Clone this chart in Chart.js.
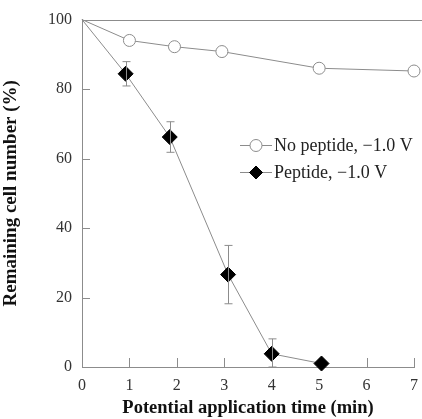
<!DOCTYPE html>
<html>
<head>
<meta charset="utf-8">
<script src="https://cdn.jsdelivr.net/npm/chart.js@4.4.4/dist/chart.umd.min.js"></script>
<style>
  html, body { margin: 0; padding: 0; background: #fff; overflow: hidden; }
  canvas { display: block; }
</style>
</head>
<body>
<canvas id="c" width="427" height="419"></canvas>
<script>
// data
const noPepX = [0, 1, 1.95, 2.95, 5, 7]
const noPepY = [100, 94, 92.2, 90.8, 86, 85.2]
const pepX = [0, 0.92, 1.85, 3.08, 4, 5.05]
const pepY = [100, 84.4, 66.2, 26.6, 3.8, 1]
const pepErr = [0, 3.5, 4.4, 8.4, 4.3, 0]
const xTicks = [0, 1, 2, 3, 4, 5, 6, 7]
const yTicks = [0, 20, 40, 60, 80, 100]

const lineGray = "#8c8c8c"
const serif = "'Liberation Serif', 'DejaVu Serif', serif"

const toPts = (xs, ys) => xs.map((x, i) => ({x: x, y: ys[i]}))

// error bars for the peptide series
const errorBars = {
  id: "errorBars",
  afterDatasetsDraw(chart) {
    const {ctx, scales: {x, y}} = chart
    ctx.save()
    ctx.strokeStyle = lineGray
    ctx.lineWidth = 1
    pepX.forEach((v, i) => {
      if (!pepErr[i]) return
      const px = Math.round(x.getPixelForValue(v)) + 0.5
      const top = y.getPixelForValue(pepY[i] + pepErr[i])
      const bot = y.getPixelForValue(Math.max(0, pepY[i] - pepErr[i]))
      ctx.beginPath()
      ctx.moveTo(px, top); ctx.lineTo(px, bot)
      ctx.moveTo(px - 4, top); ctx.lineTo(px + 4, top)
      ctx.moveTo(px - 4, bot); ctx.lineTo(px + 4, bot)
      ctx.stroke()
    })
    ctx.restore()
  }
}

// inward tick marks + top frame line
const innerTicks = {
  id: "innerTicks",
  beforeDatasetsDraw(chart) {
    const {ctx, chartArea: a, scales: {x, y}} = chart
    ctx.save()
    ctx.strokeStyle = lineGray
    ctx.lineWidth = 1
    ctx.beginPath()
    const top = Math.round(y.getPixelForValue(100)) + 0.5
    ctx.moveTo(a.left, top); ctx.lineTo(chart.width, top)
    xTicks.slice(1).forEach(v => {
      const px = Math.round(x.getPixelForValue(v)) + 0.5
      ctx.moveTo(px, a.bottom); ctx.lineTo(px, a.bottom - 9)
    })
    yTicks.slice(1, -1).forEach(v => {
      const py = Math.round(y.getPixelForValue(v)) + 0.5
      ctx.moveTo(a.left, py); ctx.lineTo(a.left + 8, py)
    })
    ctx.stroke()
    ctx.restore()
  }
}

// legend drawn inside the plot
const innerLegend = {
  id: "innerLegend",
  afterDatasetsDraw(chart) {
    const {ctx} = chart
    const rows = [
      {y: 145, ds: 0},
      {y: 172, ds: 1}
    ]
    ctx.save()
    rows.forEach(r => {
      const ds = chart.data.datasets[r.ds]
      ctx.strokeStyle = lineGray
      ctx.lineWidth = 1
      ctx.beginPath()
      ctx.moveTo(240, r.y + 0.5); ctx.lineTo(272, r.y + 0.5)
      ctx.stroke()
      ctx.fillStyle = ds.pointBackgroundColor
      ctx.strokeStyle = ds.pointBorderColor
      Chart.helpers.drawPoint(ctx, {
        pointStyle: ds.pointStyle, radius: ds.legendRadius, borderWidth: 1
      }, 256, r.y + 0.5)
      ctx.fillStyle = "#222"
      ctx.font = "18px " + serif
      ctx.textBaseline = "middle"
      ctx.fillText(ds.label, 274, r.y + 1)
    })
    ctx.restore()
  }
}

const chart = new Chart(document.getElementById("c"), {
  type: "scatter",
  data: {
    datasets: [
      {
        label: "No peptide, \u22121.0 V",
        data: toPts(noPepX, noPepY),
        showLine: true,
        borderColor: lineGray,
        borderWidth: 1,
        pointStyle: "circle",
        pointRadius: [0, 6, 6, 6, 6, 6],
        legendRadius: 6,
        pointBackgroundColor: "#fff",
        pointBorderColor: lineGray,
        pointBorderWidth: 1
      },
      {
        label: "Peptide, \u22121.0 V",
        data: toPts(pepX, pepY),
        showLine: true,
        borderColor: lineGray,
        borderWidth: 1,
        pointStyle: "rectRot",
        pointRadius: [0, 7.5, 7.5, 7.5, 7.5, 7.5],
        legendRadius: 6.5,
        pointBackgroundColor: "#000",
        pointBorderColor: "#000",
        pointBorderWidth: 1
      }
    ]
  },
  options: {
    responsive: false,
    devicePixelRatio: 1,
    animation: false,
    clip: false,
    layout: { padding: { top: 19, right: 4, left: 0, bottom: 0 } },
    plugins: {
      legend: { display: false },
      tooltip: { enabled: false }
    },
    scales: {
      x: {
        type: "linear",
        min: 0, max: 7,
        afterBuildTicks: (s) => { s.ticks = xTicks.map(v => ({value: v})) },
        afterFit: (s) => { s.height = 52 },
        grid: { display: false, drawTicks: false },
        border: { color: lineGray, width: 1 },
        ticks: {
          color: "#333",
          padding: 9,
          font: { family: serif, size: 16 }
        },
        title: {
          display: true,
          text: "Potential application time (min)",
          color: "#111",
          padding: { top: 0, bottom: 0 },
          font: { family: serif, size: 18.5, weight: "bold" }
        }
      },
      y: {
        min: 0, max: 100,
        afterBuildTicks: (s) => { s.ticks = yTicks.map(v => ({value: v})) },
        afterFit: (s) => { s.width = 82 },
        grid: { display: false, drawTicks: false },
        border: { color: lineGray, width: 1 },
        ticks: {
          color: "#333",
          padding: 10,
          font: { family: serif, size: 16 }
        },
        title: {
          display: true,
          text: "Remaining cell number (%)",
          color: "#111",
          padding: { top: 0, bottom: 4 },
          font: { family: serif, size: 19, weight: "bold" }
        }
      }
    }
  },
  plugins: [innerTicks, errorBars, innerLegend]
})
</script>
</body>
</html>
